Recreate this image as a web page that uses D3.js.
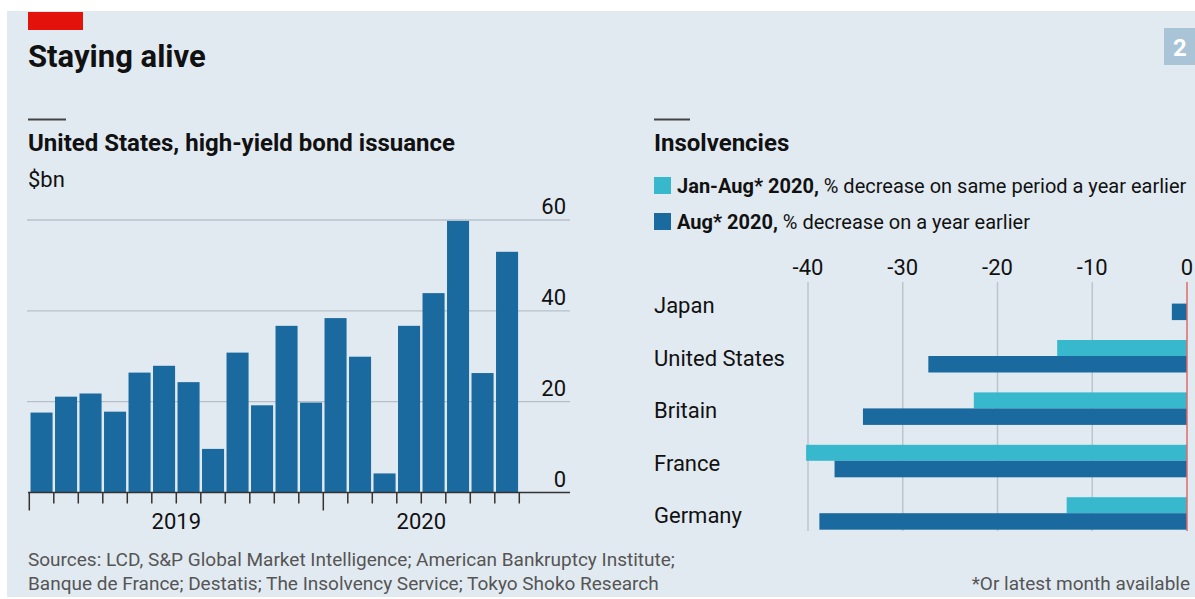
<!DOCTYPE html>
<html><head><meta charset="utf-8">
<script src="https://cdn.jsdelivr.net/npm/d3@7"></script>
<style>
html,body{margin:0;padding:0;background:#fff;}
svg{display:block;font-family:Roboto,"Noto Sans",sans-serif;}
</style></head><body>
<svg id="c" width="1195" height="599"></svg>
<script>
// ---------- data ----------
const months = ["Jan 2019","Feb 2019","Mar 2019","Apr 2019","May 2019","Jun 2019","Jul 2019","Aug 2019","Sep 2019","Oct 2019","Nov 2019","Dec 2019",
                "Jan 2020","Feb 2020","Mar 2020","Apr 2020","May 2020","Jun 2020","Jul 2020","Aug 2020"];
const issuance = [17.6,21.1,21.8,17.8,26.4,27.9,24.3,9.6,30.8,19.2,36.7,19.8,38.4,29.9,4.2,36.7,43.9,59.8,26.3,53.0];
const issuanceTicks = [0,20,40,60];
const years = ["2019","2020"];

const countries = ["Japan","United States","Britain","France","Germany"];
const janAug = [null,-13.7,-22.5,-40.2,-12.7];
const augOnly = [-1.6,-27.3,-34.2,-37.2,-38.8];
const insolvTicks = [-40,-30,-20,-10,0];

const DARK = "#1b6a9f", LIGHT = "#38b8cc", INK = "#111";

const svg = d3.select("#c");

// background
svg.append("rect").attr("x",7).attr("y",11).attr("width",1188).attr("height",586).attr("fill","#e2eaf1");
svg.append("rect").attr("x",28).attr("y",12).attr("width",55).attr("height",18).attr("fill","#e3120b");
svg.append("text").attr("x",28).attr("y",67).attr("font-size",31).attr("font-weight","bold").attr("fill",INK).text("Staying alive");
svg.append("rect").attr("x",1164).attr("y",28).attr("width",31).attr("height",37).attr("fill","#a8c4d6");
svg.append("text").attr("x",1180).attr("y",56).attr("text-anchor","middle").attr("font-size",24).attr("font-weight","bold").attr("fill","#fff").text("2");

// ---------- left panel ----------
svg.append("rect").attr("x",28).attr("y",118.5).attr("width",38).attr("height",2).attr("fill","#444");
svg.append("text").attr("x",28).attr("y",151).attr("font-size",24).attr("font-weight","bold").attr("fill",INK).text("United States, high-yield bond issuance");
svg.append("text").attr("x",28).attr("y",187).attr("font-size",22).attr("fill",INK).text("$bn");

const x = d3.scaleBand().domain(months).range([29.3,519.3]).paddingInner(0.1).paddingOuter(0.05);
const y = d3.scaleLinear().domain([0,60]).range([492.5,220]);

const gl = svg.append("g");
gl.selectAll("line").data(issuanceTicks.filter(d=>d!==0)).join("line")
  .attr("x1",27).attr("x2",570).attr("y1",d=>y(d)).attr("y2",d=>y(d))
  .attr("stroke","#b7c0c8").attr("stroke-width",1.3);
gl.selectAll("text").data(issuanceTicks).join("text")
  .attr("x",566).attr("y",d=>y(d)-6).attr("text-anchor","end").attr("font-size",22).attr("fill",INK).text(d=>d);

svg.append("g").selectAll("rect").data(issuance).join("rect")
  .attr("x",(d,i)=>x(months[i])).attr("width",x.bandwidth())
  .attr("y",d=>y(d)).attr("height",d=>y(0)-y(d)).attr("fill",DARK);

svg.append("line").attr("x1",28).attr("x2",570).attr("y1",y(0)).attr("y2",y(0)).attr("stroke","#333").attr("stroke-width",1.6);
const step = x.step(), x0 = x.range()[0];
svg.append("g").selectAll("line").data(d3.range(months.length+1)).join("line")
  .attr("x1",i=>x0+i*step).attr("x2",i=>x0+i*step)
  .attr("y1",y(0)).attr("y2",i=>y(0)+(i%12===0?18:11))
  .attr("stroke","#333").attr("stroke-width",1.5);
svg.append("g").selectAll("text").data(years).join("text")
  .attr("x",yr=>{const idx=months.map((m,i)=>m.endsWith(yr)?i:-1).filter(i=>i>=0);
                 return (x0+idx[0]*step + x0+(idx[idx.length-1]+1)*step)/2;})
  .attr("y",529).attr("text-anchor","middle").attr("font-size",22).attr("fill",INK).text(d=>d);

// ---------- right panel ----------
svg.append("rect").attr("x",654).attr("y",118.5).attr("width",36).attr("height",2).attr("fill","#444");
svg.append("text").attr("x",654).attr("y",151).attr("font-size",24).attr("font-weight","bold").attr("fill",INK).text("Insolvencies");

const legend = [
  {c:LIGHT, b:"Jan-Aug* 2020,", r:" % decrease on same period a year earlier", y:177},
  {c:DARK,  b:"Aug* 2020,",     r:" % decrease on a year earlier",             y:213}
];
legend.forEach(l=>{
  svg.append("rect").attr("x",654).attr("y",l.y).attr("width",17).attr("height",17).attr("fill",l.c);
  const t = svg.append("text").attr("x",677).attr("y",l.y+16).attr("fill",INK);
  t.append("tspan").attr("font-size",20).attr("font-weight","bold").text(l.b);
  t.append("tspan").attr("font-size",20).text(l.r);
});

const xr = d3.scaleLinear().domain([-40,0]).range([808,1187]);
const yb = d3.scaleBand().domain(countries).range([277.4,539.4]);

svg.append("g").selectAll("line").data(insolvTicks.filter(d=>d!==0)).join("line")
  .attr("x1",d=>xr(d)).attr("x2",d=>xr(d)).attr("y1",282).attr("y2",531)
  .attr("stroke","#bcc5cc").attr("stroke-width",1.5);
svg.append("g").selectAll("text").data(insolvTicks).join("text")
  .attr("x",d=>xr(d)).attr("y",275).attr("text-anchor","middle").attr("font-size",22).attr("fill",INK).text(d=>d);

const bh = 16;
svg.append("g").selectAll("rect").data(countries.map((c,i)=>({c,v:janAug[i]})).filter(d=>d.v!==null)).join("rect")
  .attr("x",d=>xr(d.v)).attr("width",d=>xr(0)-xr(d.v))
  .attr("y",d=>yb(d.c)+yb.bandwidth()/2-bh).attr("height",bh).attr("fill",LIGHT);
svg.append("g").selectAll("rect").data(countries.map((c,i)=>({c,v:augOnly[i]}))).join("rect")
  .attr("x",d=>xr(d.v)).attr("width",d=>xr(0)-xr(d.v))
  .attr("y",d=>yb(d.c)+yb.bandwidth()/2).attr("height",bh+0.5).attr("fill",DARK);

svg.append("line").attr("x1",xr(0)).attr("x2",xr(0)).attr("y1",282).attr("y2",531).attr("stroke","#e06a6a").attr("stroke-width",1.5);

svg.append("g").selectAll("text").data(countries).join("text")
  .attr("x",654).attr("y",d=>yb(d)+yb.bandwidth()/2+2).attr("dy","0.35em")
  .attr("font-size",22).attr("fill",INK).text(d=>d);

// ---------- footer ----------
svg.append("text").attr("x",28).attr("y",566).attr("font-size",19).attr("fill","#555")
  .text("Sources: LCD, S&P Global Market Intelligence; American Bankruptcy Institute;");
svg.append("text").attr("x",28).attr("y",590).attr("font-size",19).attr("fill","#555")
  .text("Banque de France; Destatis; The Insolvency Service; Tokyo Shoko Research");
svg.append("text").attr("x",1190).attr("y",590).attr("text-anchor","end").attr("font-size",19).attr("fill","#555")
  .text("*Or latest month available");
</script>
</body></html>
